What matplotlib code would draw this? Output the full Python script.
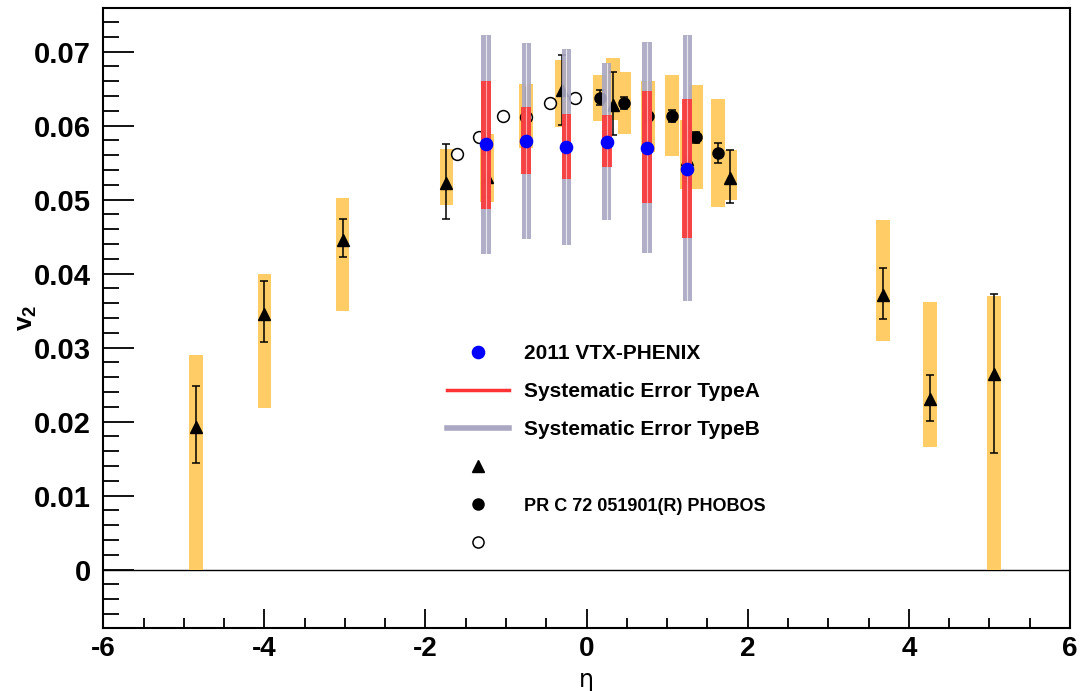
import numpy as np
import matplotlib
matplotlib.use("Agg")
import matplotlib.pyplot as plt
from matplotlib.lines import Line2D

ORANGE = "#FFCC66"
RED    = "#FF3333"
GRAYB  = "#A9A7C2"
BLUE   = "#0000FF"

plt.rcParams.update({
    "font.family": ["Liberation Sans", "DejaVu Sans"],
    "mathtext.fontset": "custom",
    "mathtext.rm": "Liberation Sans",
    "mathtext.bf": "Liberation Sans:bold",
    "axes.unicode_minus": False,
})

# ---------------- data ----------------
# 2011 VTX-PHENIX
vtx_eta = [-1.25, -0.75, -0.25, 0.25, 0.75, 1.25]
vtx_v2  = [0.0575, 0.0579, 0.0571, 0.0578, 0.0570, 0.0541]
sysA_lo = [0.0487, 0.0534, 0.0528, 0.0544, 0.0496, 0.0448]
sysA_hi = [0.0661, 0.0625, 0.0616, 0.0614, 0.0647, 0.0636]
sysB_lo = [0.0427, 0.0447, 0.0439, 0.0472, 0.0428, 0.0363]
sysB_hi = [0.0722, 0.0712, 0.0703, 0.0685, 0.0713, 0.0722]

# triangles
tri_eta = [-4.85, -4.00, -3.03, -1.74, -1.24, -0.31, 0.33, 1.25, 1.78, 3.68, 4.26, 5.06]
tri_v2  = [0.0193, 0.0346, 0.0446, 0.0523, 0.0531, 0.0648, 0.0628, 0.0555, 0.0529, 0.0371, 0.0230, 0.0264]
tri_lo  = [0.0144, 0.0308, 0.0422, 0.0474, 0.0504, 0.0601, 0.0587, 0.0524, 0.0495, 0.0339, 0.0201, 0.0158]
tri_hi  = [0.0248, 0.0390, 0.0474, 0.0575, 0.0562, 0.0695, 0.0672, 0.0597, 0.0567, 0.0407, 0.0263, 0.0373]
tri_sys_lo = [0.0, 0.0218, 0.0350, 0.0493, 0.0497, 0.0598, 0.0607, 0.0514, 0.0500, 0.0309, 0.0166, 0.0]
tri_sys_hi = [0.0290, 0.0399, 0.0502, 0.0568, 0.0589, 0.0689, 0.0691, 0.0607, 0.0567, 0.0473, 0.0361, 0.0370]

# PHOBOS filled circles
fc_eta = [0.165, 0.47, 0.76, 1.06, 1.36, 1.63]
fc_v2  = [0.0638, 0.0631, 0.0613, 0.0613, 0.0584, 0.0563]
fc_err = [0.0010, 0.0008, 0.0008, 0.0008, 0.0008, 0.0013]
fc_sys_lo = [0.0606, 0.0589, 0.0564, 0.0559, 0.0514, 0.0490]
fc_sys_hi = [0.0669, 0.0672, 0.0660, 0.0669, 0.0655, 0.0636]

# open circles
oc_eta = [-1.61, -1.33, -1.04, -0.75, -0.46, -0.15]
oc_v2  = [0.0562, 0.0584, 0.0613, 0.0612, 0.0631, 0.0638]
# the one open circle that carries an error bar and a box
oc_x_err = [-0.75]
oc_err_lo = [0.0572]
oc_err_hi = [0.0652]
oc_sys_lo = [0.0570]
oc_sys_hi = [0.0656]

xticks = [-6, -4, -2, 0, 2, 4, 6]
yticks = [0, 0.01, 0.02, 0.03, 0.04, 0.05, 0.06, 0.07]
ytick_labels = ["0", "0.01", "0.02", "0.03", "0.04", "0.05", "0.06", "0.07"]

# ---------------- figure ----------------
fig = plt.figure(figsize=(10.8, 6.91), dpi=100)
ax = fig.add_axes([0.0956, 0.0912, 0.8951, 0.8972])
ax.set_xlim(-6, 6)
ax.set_ylim(-0.0079, 0.0759)

ax.axhline(0, color="black", lw=1.0, zorder=1)

def span(lo, hi):
    lo = np.asarray(lo); hi = np.asarray(hi)
    return hi - lo, lo

# orange systematic boxes
h, b = span(tri_sys_lo, tri_sys_hi)
ax.bar(tri_eta, h, bottom=b, width=0.17, color=ORANGE, lw=0, zorder=2)
h, b = span(fc_sys_lo, fc_sys_hi)
ax.bar(fc_eta, h, bottom=b, width=0.17, color=ORANGE, lw=0, zorder=2)
h, b = span(oc_sys_lo, oc_sys_hi)
ax.bar(oc_x_err, h, bottom=b, width=0.17, color=ORANGE, lw=0, zorder=2)

# triangles with stat errors
tv = np.array(tri_v2)
ax.errorbar(tri_eta, tv, yerr=[tv - np.array(tri_lo), np.array(tri_hi) - tv],
            fmt="^", color="black", ms=8.5, elinewidth=1.1, capsize=2.6,
            capthick=1.1, zorder=3)
# filled circles
ax.errorbar(fc_eta, fc_v2, yerr=fc_err, fmt="o", color="black", ms=8,
            elinewidth=1.1, capsize=2.6, capthick=1.1, zorder=3)
# open circles
ov = np.array([oc_v2[oc_eta.index(x)] for x in oc_x_err])
ax.errorbar(oc_x_err, ov, yerr=[ov - np.array(oc_err_lo), np.array(oc_err_hi) - ov],
            fmt="none", ecolor="black", elinewidth=1.1, capsize=0, zorder=3)
ax.plot(oc_eta, oc_v2, "o", ms=8.5, mfc="white", mec="black", mew=1.1, zorder=3)

# VTX systematic bars (type B then type A)
h, b = span(sysB_lo, sysB_hi)
ax.bar(vtx_eta, h, bottom=b, width=0.115, color=GRAYB, alpha=0.9, lw=0, zorder=4)
ax.vlines(vtx_eta, sysB_lo, sysB_hi, color="white", lw=0.8, alpha=0.7, zorder=4)
h, b = span(sysA_lo, sysA_hi)
ax.bar(vtx_eta, h, bottom=b, width=0.12, color=RED, alpha=0.88, lw=0, zorder=5)
ax.vlines(vtx_eta, sysA_lo, sysA_hi, color="#FFC0C0", lw=0.8, alpha=0.8, zorder=5)

ax.plot(vtx_eta, vtx_v2, "o", color=BLUE, ms=8.8, zorder=6)

# ---------------- axes styling (ROOT look) ----------------
for s in ax.spines.values():
    s.set_linewidth(1.5)
ax.set_xticks(xticks)
ax.set_xticks(np.arange(-6, 6.01, 0.5), minor=True)
ax.set_yticks(yticks)
ax.set_yticklabels(ytick_labels)
ax.set_yticks(np.arange(-0.006, 0.0759, 0.002), minor=True)
ax.tick_params(axis="both", which="both", direction="in", top=False, right=False,
               color="black", width=1.3)
ax.tick_params(axis="y", which="major", length=22, pad=9)
ax.tick_params(axis="y", which="minor", length=11.5)
ax.tick_params(axis="x", which="major", length=14, pad=6)
ax.tick_params(axis="x", which="minor", length=7.5)
for lab in ax.get_yticklabels():
    lab.set_fontsize(21); lab.set_fontweight("bold")
for lab in ax.get_xticklabels():
    lab.set_fontsize(20); lab.set_fontweight("bold")

ax.set_xlabel("η", fontsize=17, family="DejaVu Sans")
ax.xaxis.set_label_coords(0.5, -0.065)
ax.set_ylabel(r"$\mathbf{v}_{\mathbf{2}}$", fontsize=19)
ax.yaxis.set_label_coords(-0.066, 0.5)

# ---------------- legend ----------------
handles = [
    Line2D([], [], ls="none", marker="o", color=BLUE, ms=8.8),
    Line2D([], [], color=RED, lw=2.5),
    Line2D([], [], color=GRAYB, lw=4),
    Line2D([], [], ls="none", marker="^", color="black", ms=8),
    Line2D([], [], ls="none", marker="o", color="black", ms=8),
    Line2D([], [], ls="none", marker="o", mfc="white", mec="black", ms=8, mew=1.1),
]
labels = ["2011 VTX-PHENIX", "Systematic Error TypeA", "Systematic Error TypeB",
          "", "PR C 72 051901(R) PHOBOS", ""]
leg = ax.legend(handles, labels, loc="upper left", bbox_to_anchor=(0.3555, 0.458),
                frameon=False, borderpad=0, borderaxespad=0, handlelength=3.0,
                handletextpad=0.7, labelspacing=0.92,
                prop={"weight": "bold", "size": 15})
leg.get_texts()[4].set_fontsize(13)

fig.savefig("out.png", dpi=100, facecolor="white")
